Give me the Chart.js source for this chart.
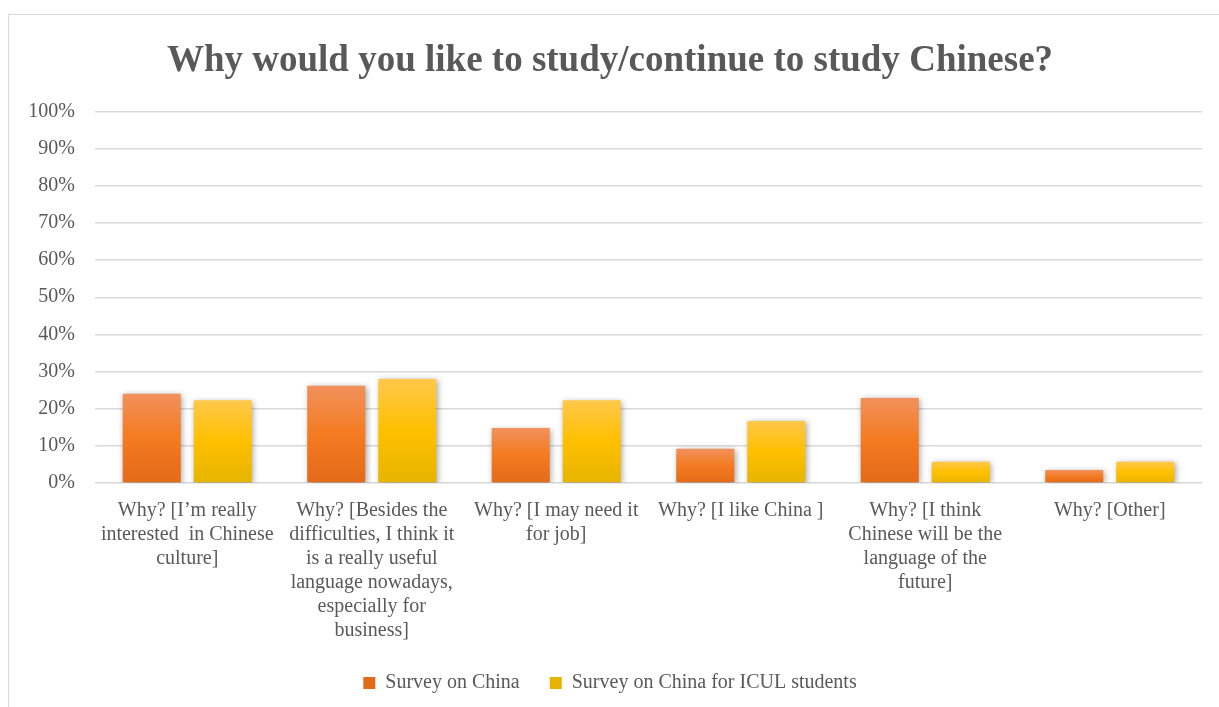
<!DOCTYPE html>
<html>
<head>
<meta charset="utf-8">
<script src="https://cdn.jsdelivr.net/npm/chart.js@4.4.1/dist/chart.umd.min.js"></script>
<style>
  html, body { margin: 0; padding: 0; background: #ffffff; }
  body { width: 1219px; height: 707px; position: relative; overflow: hidden; }
  #frame {
    position: absolute; left: 8px; top: 14px; width: 1240px; height: 720px;
    border: 1px solid #d9d9d9; box-sizing: border-box;
  }
  #wrap { position: absolute; left: 0; top: 0; width: 1219px; height: 707px; }
</style>
</head>
<body>
<div id="frame"></div>
<div id="wrap"><canvas id="c" width="1219" height="707"></canvas></div>
<script>
// Reasons for studying Chinese, answer share in percent
const categories = [
  ["Why? [I\u2019m really", "interested  in Chinese", "culture]"],
  ["Why? [Besides the", "difficulties, I think it", "is a really useful", "language nowadays,", "especially for", "business]"],
  ["Why? [I may need it", "for job]"],
  ["Why? [I like China ]"],
  ["Why? [I think", "Chinese will be the", "language of the", "future]"],
  ["Why? [Other]"]
];
const seriesNames = ["Survey on China", "Survey on China for ICUL students"];
const surveyChina = [24.0, 26.2, 14.8, 9.2, 22.9, 3.5];
const surveyIcul = [22.3, 28.0, 22.3, 16.7, 5.7, 5.7];
const yTicks = [0, 10, 20, 30, 40, 50, 60, 70, 80, 90, 100];

const FONT = "'Liberation Serif', 'Times New Roman', serif";
const TEXT = "#595959";

// vertical gradient for each bar, from its top to its base
function barFill(stops, solid) {
  return function (ctx) {
    if (ctx.type !== 'data') return solid;
    const chart = ctx.chart;
    const y = chart.scales.y;
    if (!y || !chart.chartArea) return solid;
    const top = y.getPixelForValue(ctx.parsed ? ctx.parsed.y : 0);
    const base = y.getPixelForValue(0);
    if (!isFinite(top) || !isFinite(base) || top === base) return solid;
    const g = chart.ctx.createLinearGradient(0, top, 0, base);
    g.addColorStop(0, stops[0]);
    g.addColorStop(0.5, stops[1]);
    g.addColorStop(1, stops[2]);
    return g;
  };
}

// soft drop shadow under the bars
const barShadow = {
  id: 'barShadow',
  beforeDatasetsDraw(chart) {
    const c = chart.ctx;
    c.save();
    c.shadowColor = 'rgba(0,0,0,0.35)';
    c.shadowBlur = 6;
    c.shadowOffsetX = 1.5;
    c.shadowOffsetY = 1.5;
  },
  afterDatasetsDraw(chart) {
    chart.ctx.restore();
  }
};

new Chart(document.getElementById('c'), {
  type: 'bar',
  data: {
    labels: categories,
    datasets: [
      {
        label: seriesNames[0],
        data: surveyChina,
        backgroundColor: barFill(['#F1915C', '#F47B20', '#E36A19'], '#F07F2E'),
        borderWidth: 0,
        categoryPercentage: 0.77,
        barPercentage: 0.817
      },
      {
        label: seriesNames[1],
        data: surveyIcul,
        backgroundColor: barFill(['#FFC84A', '#FFC000', '#E6B400'], '#FFC20E'),
        borderWidth: 0,
        categoryPercentage: 0.77,
        barPercentage: 0.817
      }
    ]
  },
  options: {
    responsive: false,
    animation: false,
    devicePixelRatio: 1,
    layout: { padding: { left: 18, right: 17, top: 0, bottom: 4 } },
    plugins: {
      title: {
        display: true,
        text: "Why would you like to study/continue to study Chinese?",
        color: TEXT,
        font: { family: FONT, size: 37, weight: 'bold' },
        padding: { top: 39, bottom: 28 }
      },
      legend: {
        position: 'bottom',
        labels: {
          color: TEXT,
          font: { family: FONT, size: 20 },
          boxWidth: 12,
          boxHeight: 12,
          padding: 30
        }
      },
      tooltip: { enabled: false }
    },
    scales: {
      x: {
        grid: { display: false, drawTicks: false },
        border: { display: false },
        ticks: {
          color: TEXT,
          font: { family: FONT, size: 20, lineHeight: 1.2 },
          maxRotation: 0,
          minRotation: 0,
          autoSkip: false,
          padding: 16
        },
        afterFit(scale) { scale.height = 160; }
      },
      y: {
        min: 0,
        max: 100,
        afterBuildTicks(scale) { scale.ticks = yTicks.map(v => ({ value: v })); },
        grid: { color: '#d9d9d9', lineWidth: 1.4, drawTicks: false },
        border: { display: false },
        ticks: {
          color: TEXT,
          font: { family: FONT, size: 20 },
          padding: 20,
          callback: v => v + '%'
        },
        afterFit(scale) { scale.width = 77; }
      }
    }
  },
  plugins: [barShadow]
});
</script>
</body>
</html>
